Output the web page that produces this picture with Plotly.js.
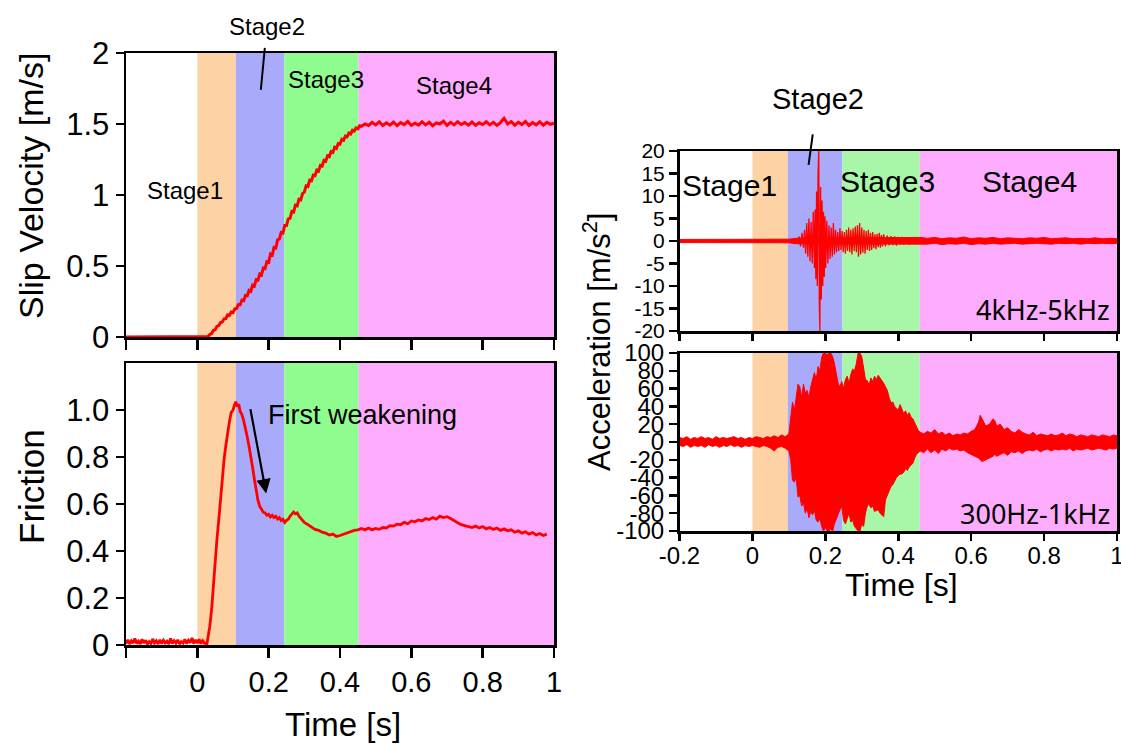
<!DOCTYPE html>
<html>
<head>
<meta charset="utf-8">
<script src="https://cdn.plot.ly/plotly-3.0.1.min.js"></script>
<style>html,body{margin:0;padding:0;background:#fff;}#chart{width:1121px;height:744px;}</style>
</head>
<body>
<div id="chart"></div>
<script>
// ---------- Data ----------
// Stage boundaries [s]
const stageLeft = [0, 0.108, 0.244, 0.452, 1.0];
const stageRight = [0, 0.097, 0.247, 0.459, 1.0];
const stageNames = ['Stage1', 'Stage2', 'Stage3', 'Stage4'];

// Slip velocity [m/s]
const velT = [-0.2, 0.0, 0.027, 0.030, 0.035, 0.040, 0.045, 0.050, 0.055, 0.060, 0.065, 0.070, 0.075, 0.080, 0.085, 0.090, 0.095, 0.100, 0.105, 0.110, 0.115, 0.120, 0.125, 0.130, 0.135, 0.140, 0.145, 0.150, 0.155, 0.160, 0.165, 0.170, 0.175, 0.180, 0.185, 0.190, 0.195, 0.200, 0.205, 0.210, 0.215, 0.220, 0.225, 0.230, 0.235, 0.240, 0.245, 0.250, 0.255, 0.260, 0.265, 0.270, 0.275, 0.280, 0.285, 0.290, 0.295, 0.300, 0.305, 0.310, 0.315, 0.320, 0.325, 0.330, 0.335, 0.340, 0.345, 0.350, 0.355, 0.360, 0.365, 0.370, 0.375, 0.380, 0.385, 0.390, 0.395, 0.400, 0.405, 0.410, 0.415, 0.420, 0.425, 0.430, 0.435, 0.440, 0.445, 0.450, 0.455, 0.460, 0.470, 0.480, 0.490, 0.500, 0.510, 0.520, 0.530, 0.540, 0.550, 0.560, 0.570, 0.580, 0.590, 0.600, 0.610, 0.620, 0.630, 0.640, 0.650, 0.660, 0.670, 0.680, 0.690, 0.700, 0.710, 0.720, 0.730, 0.740, 0.750, 0.760, 0.770, 0.780, 0.790, 0.800, 0.810, 0.820, 0.830, 0.840, 0.850, 0.860, 0.870, 0.880, 0.890, 0.900, 0.910, 0.920, 0.930, 0.940, 0.950, 0.960, 0.970, 0.980, 0.990, 1.000];
const velV = [0, 0, 0, 0.004, 0.018, 0.024, 0.046, 0.052, 0.074, 0.080, 0.102, 0.106, 0.128, 0.130, 0.156, 0.152, 0.176, 0.172, 0.198, 0.200, 0.228, 0.226, 0.260, 0.256, 0.292, 0.290, 0.328, 0.322, 0.366, 0.360, 0.404, 0.400, 0.444, 0.438, 0.486, 0.482, 0.530, 0.526, 0.584, 0.576, 0.630, 0.626, 0.684, 0.690, 0.736, 0.732, 0.786, 0.786, 0.832, 0.836, 0.884, 0.880, 0.928, 0.924, 0.970, 0.966, 1.010, 1.020, 1.064, 1.060, 1.104, 1.100, 1.140, 1.136, 1.176, 1.170, 1.208, 1.204, 1.244, 1.238, 1.276, 1.270, 1.306, 1.300, 1.336, 1.328, 1.362, 1.358, 1.392, 1.386, 1.414, 1.410, 1.436, 1.430, 1.456, 1.450, 1.472, 1.466, 1.488, 1.484, 1.500, 1.490, 1.512, 1.494, 1.516, 1.490, 1.508, 1.492, 1.514, 1.488, 1.510, 1.496, 1.518, 1.490, 1.506, 1.492, 1.516, 1.494, 1.512, 1.488, 1.508, 1.500, 1.520, 1.490, 1.512, 1.494, 1.516, 1.496, 1.510, 1.492, 1.514, 1.490, 1.508, 1.496, 1.516, 1.494, 1.512, 1.490, 1.510, 1.540, 1.500, 1.516, 1.492, 1.512, 1.496, 1.518, 1.490, 1.510, 1.494, 1.516, 1.492, 1.512, 1.498, 1.506];

// Friction coefficient
const friT = [-0.2, -0.195, -0.19, -0.185, -0.18, -0.175, -0.17, -0.165, -0.16, -0.155, -0.15, -0.145, -0.14, -0.135, -0.13, -0.125, -0.12, -0.115, -0.11, -0.105, -0.1, -0.095, -0.09, -0.085, -0.08, -0.075, -0.07, -0.065, -0.06, -0.055, -0.05, -0.045, -0.04, -0.035, -0.03, -0.025, -0.02, -0.015, -0.01, -0.005, 0.0, 0.005, 0.01, 0.015, 0.02, 0.027, 0.035, 0.040, 0.045, 0.050, 0.055, 0.060, 0.065, 0.070, 0.075, 0.080, 0.085, 0.090, 0.095, 0.100, 0.104, 0.108, 0.112, 0.116, 0.120, 0.125, 0.130, 0.135, 0.140, 0.145, 0.150, 0.155, 0.160, 0.165, 0.170, 0.175, 0.180, 0.185, 0.190, 0.195, 0.200, 0.205, 0.210, 0.215, 0.220, 0.225, 0.230, 0.235, 0.240, 0.245, 0.250, 0.255, 0.260, 0.265, 0.270, 0.275, 0.280, 0.285, 0.290, 0.295, 0.300, 0.310, 0.320, 0.330, 0.340, 0.350, 0.360, 0.370, 0.380, 0.390, 0.400, 0.410, 0.420, 0.430, 0.440, 0.450, 0.460, 0.470, 0.480, 0.490, 0.500, 0.510, 0.520, 0.530, 0.540, 0.550, 0.560, 0.570, 0.580, 0.590, 0.600, 0.610, 0.620, 0.630, 0.640, 0.650, 0.660, 0.670, 0.680, 0.690, 0.700, 0.710, 0.720, 0.730, 0.740, 0.750, 0.760, 0.770, 0.780, 0.790, 0.800, 0.810, 0.820, 0.830, 0.840, 0.850, 0.860, 0.870, 0.880, 0.890, 0.900, 0.910, 0.920, 0.930, 0.940, 0.950, 0.960, 0.970, 0.980, 0.990, 1.000];
const friV = [0.006, 0.022, 0.004, 0.018, 0.008, 0.028, 0.006, 0.016, 0.004, 0.024, 0.008, 0.02, 0.004, 0.014, 0.006, 0.026, 0.008, 0.018, 0.004, 0.022, 0.006, 0.02, 0.008, 0.016, 0.004, 0.028, 0.006, 0.018, 0.008, 0.022, 0.004, 0.014, 0.008, 0.024, 0.006, 0.02, 0.01, 0.03, 0.006, 0.022, 0.008, 0.024, 0.006, 0.018, 0.008, 0.006, 0.08, 0.15, 0.25, 0.36, 0.45, 0.53, 0.62, 0.71, 0.79, 0.85, 0.91, 0.95, 0.99, 1.00, 1.02, 1.035, 1.015, 1.025, 0.995, 0.98, 0.955, 0.925, 0.885, 0.845, 0.805, 0.755, 0.705, 0.655, 0.615, 0.59, 0.575, 0.565, 0.562, 0.552, 0.556, 0.545, 0.552, 0.542, 0.548, 0.536, 0.542, 0.53, 0.535, 0.522, 0.53, 0.535, 0.548, 0.556, 0.566, 0.558, 0.562, 0.548, 0.54, 0.528, 0.522, 0.512, 0.502, 0.492, 0.488, 0.48, 0.476, 0.468, 0.472, 0.462, 0.466, 0.472, 0.476, 0.482, 0.488, 0.49, 0.496, 0.49, 0.498, 0.49, 0.496, 0.492, 0.5, 0.498, 0.508, 0.506, 0.514, 0.512, 0.522, 0.516, 0.528, 0.524, 0.532, 0.528, 0.538, 0.534, 0.542, 0.536, 0.548, 0.542, 0.546, 0.538, 0.528, 0.52, 0.512, 0.508, 0.504, 0.5, 0.506, 0.498, 0.504, 0.494, 0.5, 0.492, 0.498, 0.488, 0.494, 0.486, 0.49, 0.48, 0.486, 0.476, 0.482, 0.472, 0.478, 0.468, 0.474, 0.466, 0.472];

// Acceleration 4kHz-5kHz: baseline band (upper / lower) and burst trace
const acc1BandT = [-0.2, 0.0, 0.1, 0.12, 0.46, 0.48, 0.50, 0.52, 0.54, 0.56, 0.58, 0.60, 0.62, 0.64, 0.66, 0.68, 0.70, 0.72, 0.74, 0.76, 0.78, 0.80, 0.82, 0.84, 0.86, 0.88, 0.90, 0.92, 0.94, 0.96, 0.98, 1.0];
const acc1BandHi = [0.35, 0.35, 0.4, 0.6, 0.8, 0.6, 0.8, 0.5, 0.7, 0.6, 0.9, 0.5, 0.7, 0.6, 0.8, 0.5, 0.7, 0.6, 0.5, 0.7, 0.6, 0.8, 0.5, 0.6, 0.7, 0.5, 0.6, 0.5, 0.7, 0.5, 0.6, 0.5];
const acc1BandLo = [-0.35, -0.35, -0.4, -0.6, -0.8, -0.7, -0.5, -0.8, -0.6, -0.7, -0.5, -0.8, -0.6, -0.7, -0.5, -0.7, -0.6, -0.5, -0.7, -0.6, -0.5, -0.6, -0.7, -0.5, -0.6, -0.5, -0.7, -0.5, -0.6, -0.5, -0.6, -0.5];
const acc1T = [0.120, 0.124, 0.128, 0.132, 0.136, 0.140, 0.143, 0.146, 0.149, 0.152, 0.155, 0.158, 0.161, 0.164, 0.167, 0.170, 0.172, 0.174, 0.176, 0.178, 0.180, 0.182, 0.1835, 0.185, 0.187, 0.189, 0.191, 0.193, 0.195, 0.197, 0.199, 0.201, 0.204, 0.207, 0.210, 0.213, 0.216, 0.219, 0.222, 0.225, 0.228, 0.231, 0.234, 0.237, 0.240, 0.243, 0.246, 0.249, 0.252, 0.255, 0.258, 0.261, 0.264, 0.267, 0.270, 0.273, 0.276, 0.279, 0.282, 0.285, 0.288, 0.291, 0.294, 0.297, 0.300, 0.303, 0.306, 0.309, 0.312, 0.315, 0.318, 0.321, 0.324, 0.327, 0.330, 0.333, 0.336, 0.339, 0.342, 0.345, 0.348, 0.351, 0.354, 0.357, 0.360, 0.365, 0.370, 0.375, 0.380, 0.385, 0.390, 0.395, 0.400, 0.405, 0.410, 0.415, 0.420, 0.430, 0.440, 0.450, 0.460];
const acc1V = [0.5, -0.6, 1.0, -1.2, 1.8, -1.5, 2.5, -2.8, 4.0, -3.5, 5.0, -4.5, 4.2, -5.0, 6.5, -6.0, 7.0, -8.5, 11.0, -10.0, 15.0, 20.0, -14.0, -20.0, 12.0, -13.0, 9.0, -10.0, 6.5, -8.0, 5.5, -6.0, 4.5, -5.0, 3.5, -4.0, 3.0, -3.5, 4.0, -3.0, 2.5, -2.5, 2.0, -2.2, 2.8, -2.0, 2.2, -2.5, 2.0, -2.8, 2.5, -2.2, 3.0, -2.5, 2.5, -3.0, 2.8, -2.2, 3.2, -2.5, 3.5, -3.5, 4.0, -3.0, 3.0, -2.6, 2.5, -2.8, 2.2, -2.0, 2.5, -2.2, 1.8, -2.0, 2.0, -1.6, 1.5, -1.8, 1.6, -1.4, 1.8, -1.5, 1.3, -1.2, 1.5, -1.2, 1.2, -1.0, 1.1, -0.9, 1.0, -1.0, 0.9, -0.8, 0.9, -0.8, 0.7, -0.7, 0.6, -0.6, 0.5];

// Acceleration 300Hz-1kHz: envelope (upper / lower)
const acc2T = [-0.2, -0.19, -0.18, -0.17, -0.16, -0.15, -0.14, -0.13, -0.12, -0.11, -0.1, -0.09, -0.08, -0.07, -0.06, -0.05, -0.04, -0.03, -0.02, -0.01, 0.0, 0.01, 0.02, 0.03, 0.04, 0.05, 0.06, 0.07, 0.08, 0.09, 0.100, 0.105, 0.110, 0.115, 0.120, 0.125, 0.130, 0.135, 0.140, 0.145, 0.150, 0.155, 0.160, 0.165, 0.170, 0.175, 0.180, 0.185, 0.190, 0.195, 0.200, 0.205, 0.210, 0.215, 0.220, 0.225, 0.230, 0.235, 0.240, 0.245, 0.250, 0.255, 0.260, 0.265, 0.270, 0.275, 0.280, 0.285, 0.290, 0.295, 0.300, 0.305, 0.310, 0.315, 0.320, 0.325, 0.330, 0.335, 0.340, 0.345, 0.350, 0.355, 0.360, 0.365, 0.370, 0.375, 0.380, 0.385, 0.390, 0.395, 0.400, 0.405, 0.410, 0.415, 0.420, 0.425, 0.430, 0.435, 0.440, 0.445, 0.450, 0.455, 0.460, 0.47, 0.48, 0.49, 0.50, 0.51, 0.52, 0.53, 0.54, 0.55, 0.56, 0.57, 0.58, 0.59, 0.60, 0.61, 0.62, 0.625, 0.63, 0.64, 0.65, 0.66, 0.665, 0.67, 0.68, 0.69, 0.70, 0.71, 0.72, 0.73, 0.74, 0.75, 0.76, 0.77, 0.78, 0.79, 0.80, 0.81, 0.82, 0.83, 0.84, 0.85, 0.86, 0.87, 0.88, 0.89, 0.90, 0.91, 0.92, 0.93, 0.94, 0.95, 0.96, 0.97, 0.98, 0.99, 1.0];
const acc2Hi = [5, 4, 6, 3, 5, 4, 6, 4, 5, 3, 6, 4, 5, 4, 5, 6, 4, 5, 3, 5, 4, 6, 5, 4, 6, 5, 7, 5, 8, 6, 9, 25, 45, 35, 48, 65, 62, 50, 65, 55, 58, 50, 62, 72, 78, 70, 85, 80, 95, 100, 100, 98, 100, 100, 96, 88, 78, 66, 62, 68, 60, 70, 74, 66, 76, 82, 80, 88, 100, 100, 96, 80, 70, 69, 64, 72, 68, 74, 70, 75, 72, 70, 66, 62, 58, 50, 44, 45, 40, 38, 36, 42, 36, 32, 35, 30, 33, 28, 26, 22, 18, 13, 11, 9, 12, 10, 14, 9, 11, 8, 10, 7, 9, 8, 10, 9, 12, 14, 22, 30, 26, 18, 20, 26, 24, 18, 20, 14, 16, 12, 10, 14, 11, 9, 8, 11, 7, 9, 8, 7, 9, 7, 8, 10, 7, 9, 8, 6, 8, 7, 6, 8, 7, 6, 8, 7, 6, 8, 7];
const acc2Lo = [-4, -5, -3, -6, -4, -5, -4, -6, -3, -5, -4, -6, -4, -5, -3, -5, -4, -6, -4, -5, -4, -5, -6, -4, -5, -7, -10, -6, -5, -7, -10, -20, -43, -45, -40, -62, -60, -72, -68, -80, -75, -85, -78, -82, -76, -88, -90, -86, -95, -100, -96, -100, -100, -98, -100, -92, -86, -80, -76, -72, -88, -92, -85, -80, -90, -88, -95, -98, -100, -100, -92, -95, -80, -72, -70, -74, -72, -78, -77, -76, -80, -82, -84, -65, -60, -55, -50, -48, -44, -40, -38, -36, -36, -34, -30, -32, -28, -26, -24, -18, -14, -12, -10, -12, -8, -12, -9, -13, -8, -10, -7, -9, -8, -10, -9, -12, -14, -16, -18, -20, -22, -20, -18, -16, -14, -16, -14, -12, -15, -11, -12, -10, -13, -10, -9, -10, -8, -11, -9, -8, -10, -8, -9, -8, -9, -7, -10, -8, -9, -8, -7, -9, -8, -7, -8, -9, -7, -8, -7];

// Tick labels
const velTicks = [0, 0.5, 1, 1.5, 2];
const velTickText = ['0', '0.5', '1', '1.5', '2'];
const friTicks = [0, 0.2, 0.4, 0.6, 0.8, 1.0];
const friTickText = ['0', '0.2', '0.4', '0.6', '0.8', '1.0'];
const timeTicks = [-0.2, 0, 0.2, 0.4, 0.6, 0.8, 1];
const timeTextLeft = ['', '0', '0.2', '0.4', '0.6', '0.8', '1'];
const timeTextRight = ['-0.2', '0', '0.2', '0.4', '0.6', '0.8', '1'];
const acc1Ticks = [-20, -15, -10, -5, 0, 5, 10, 15, 20];
const acc2Ticks = [-100, -80, -60, -40, -20, 0, 20, 40, 60, 80, 100];

// ---------- Styling ----------
const RED = '#ff0000';
const FONT = 'Liberation Sans, Arial, sans-serif';
const stageColorsLeft = ['#fdd3a6', '#aaaafb', '#8ffc8f', '#fdabfd'];
const stageColorsRight = ['#fdd3a6', '#aaaafb', '#a8f7a8', '#fdabfd'];

const traces = [
  {x: velT, y: velV, xaxis: 'x', yaxis: 'y', type: 'scatter', mode: 'lines', line: {color: RED, width: 3}, hoverinfo: 'skip'},
  {x: friT, y: friV, xaxis: 'x2', yaxis: 'y2', type: 'scatter', mode: 'lines', line: {color: RED, width: 2.8}, hoverinfo: 'skip'},
  {x: acc1BandT, y: acc1BandLo, xaxis: 'x3', yaxis: 'y3', type: 'scatter', mode: 'lines', line: {color: RED, width: 1}, hoverinfo: 'skip'},
  {x: acc1BandT, y: acc1BandHi, xaxis: 'x3', yaxis: 'y3', type: 'scatter', mode: 'lines', fill: 'tonexty', fillcolor: RED, line: {color: RED, width: 1}, hoverinfo: 'skip'},
  {x: acc1T, y: acc1V, xaxis: 'x3', yaxis: 'y3', type: 'scatter', mode: 'lines', line: {color: RED, width: 1.3}, hoverinfo: 'skip'},
  {x: acc2T, y: acc2Lo, xaxis: 'x4', yaxis: 'y4', type: 'scatter', mode: 'lines', line: {color: RED, width: 1}, hoverinfo: 'skip'},
  {x: acc2T, y: acc2Hi, xaxis: 'x4', yaxis: 'y4', type: 'scatter', mode: 'lines', fill: 'tonexty', fillcolor: RED, line: {color: RED, width: 1}, hoverinfo: 'skip'}
];

const shapes = [];
function addStages(xref, yref, bounds, colors) {
  for (let i = 0; i < 4; i++) {
    shapes.push({type: 'rect', xref: xref, yref: yref + ' domain', x0: bounds[i], x1: bounds[i + 1], y0: 0, y1: 1,
      fillcolor: colors[i], line: {width: 0}, layer: 'below'});
  }
}
addStages('x', 'y', stageLeft, stageColorsLeft);
addStages('x2', 'y2', stageLeft, stageColorsLeft);
addStages('x3', 'y3', stageRight, stageColorsRight);
addStages('x4', 'y4', stageRight, stageColorsRight);

const W = 1121, H = 744;
const px = v => v / W;
const py = v => 1 - v / H;

function xax(domain, anchor, ticktext, fontSize, ticklen, standoff) {
  return {domain: domain, anchor: anchor, range: [-0.2, 1.0], tickmode: 'array', tickvals: timeTicks,
    ticktext: ticktext, showticklabels: ticktext !== null, ticks: 'outside', ticklen: ticklen, tickwidth: 2.5,
    tickcolor: '#000', showline: true, mirror: true, linecolor: '#000', linewidth: 2.5, showgrid: false,
    zeroline: false, ticklabeloverflow: 'allow', ticklabelstandoff: standoff,
    tickfont: {family: FONT, size: fontSize, color: '#000'}, fixedrange: true};
}
function yax(domain, anchor, range, vals, text, fontSize) {
  return {domain: domain, anchor: anchor, range: range, tickmode: 'array', tickvals: vals, ticktext: text,
    ticks: 'outside', ticklen: 8, tickwidth: 2.5, tickcolor: '#000', showline: true, mirror: true,
    linecolor: '#000', linewidth: 2.5, showgrid: false, zeroline: false, ticklabelstandoff: 0,
    ticklabeloverflow: 'allow', tickfont: {family: FONT, size: fontSize, color: '#000'}, fixedrange: true};
}

const leftX = [px(126), px(554)];
const rightX = [px(679.5), px(1117)];

function label(xref, yref, x, y, text, size, extra) {
  return Object.assign({xref: xref, yref: yref, x: x, y: y, text: text, showarrow: false,
    xanchor: 'center', yanchor: 'middle', font: {family: FONT, size: size, color: '#000'}}, extra || {});
}

const layout = {
  width: W, height: H, autosize: false,
  margin: {l: 0, r: 0, t: 0, b: 0},
  paper_bgcolor: '#fff', plot_bgcolor: '#fff',
  showlegend: false,
  xaxis: xax(leftX, 'y', null, 29, 10, 0),
  yaxis: yax([py(337), py(53)], 'x', [0, 2], velTicks, velTickText, 31),
  xaxis2: xax(leftX, 'y2', timeTextLeft, 29, 10, 0),
  yaxis2: yax([py(645), py(363)], 'x2', [0, 1.2], friTicks, friTickText, 31),
  xaxis3: xax(rightX, 'y3', null, 24, 7, 0),
  yaxis3: yax([py(331), py(151)], 'x3', [-20, 20], acc1Ticks, acc1Ticks.map(String), 21),
  xaxis4: xax(rightX, 'y4', timeTextRight, 24, 7, -5),
  yaxis4: yax([py(531), py(353)], 'x4', [-100, 100], acc2Ticks, acc2Ticks.map(String), 24),
  shapes: shapes,
  annotations: [
    // axis titles
    label('paper', 'paper', px(31), py(186), 'Slip Velocity [m/s]', 34, {textangle: -90}),
    label('paper', 'paper', px(31), py(487), 'Friction', 35, {textangle: -90}),
    label('paper', 'paper', px(343), py(724), 'Time [s]', 33),
    label('paper', 'paper', px(597), py(342), 'Acceleration [m/s<sup>2</sup>]', 31, {textangle: -90}),
    label('paper', 'paper', px(901), py(585), 'Time [s]', 32),
    // left stage labels
    label('x', 'y', -0.035, 1.03, stageNames[0], 24),
    {xref: 'x', yref: 'y', x: 0.178, y: 1.74, text: stageNames[1], showarrow: true, arrowhead: 0, arrowwidth: 2, arrowcolor: '#000',
      ax: 6, ay: -63, startstandoff: 6, font: {family: FONT, size: 24, color: '#000'}},
    label('x', 'y', 0.36, 1.81, stageNames[2], 24),
    label('x', 'y', 0.72, 1.77, stageNames[3], 24),
    // first weakening arrow
    {xref: 'x2', yref: 'y2', x: 0.193, y: 0.645, axref: 'x2', ayref: 'y2', ax: 0.148, ay: 1.01, text: '', showarrow: true,
      arrowhead: 2, arrowsize: 1.3, arrowwidth: 2.2, arrowcolor: '#000'},
    label('x2', 'y2', 0.193, 0.98, 'First weakening', 27, {xanchor: 'left'}),
    // right stage labels
    label('x3', 'y3', -0.062, 12.3, stageNames[0], 30),
    {xref: 'x3', yref: 'y3', x: 0.154, y: 16.9, text: stageNames[1], showarrow: true, arrowhead: 0, arrowwidth: 2, arrowcolor: '#000',
      ax: 9, ay: -66, startstandoff: 18, font: {family: FONT, size: 29, color: '#000'}},
    label('x3', 'y3', 0.37, 13.3, stageNames[2], 30),
    label('x3', 'y3', 0.76, 13.3, stageNames[3], 30),
    label('x3', 'y3', 0.985, -15.3, '4kHz-5kHz', 27, {xanchor: 'right', font: {family: 'Noto Sans, sans-serif', size: 27, color: '#000'}}),
    label('x4', 'y4', 0.985, -80, '300Hz-1kHz', 27, {xanchor: 'right', font: {family: 'Noto Sans, sans-serif', size: 27, color: '#000'}})
  ]
};

Plotly.newPlot('chart', traces, layout, {staticPlot: true, displayModeBar: false});
</script>
</body>
</html>
